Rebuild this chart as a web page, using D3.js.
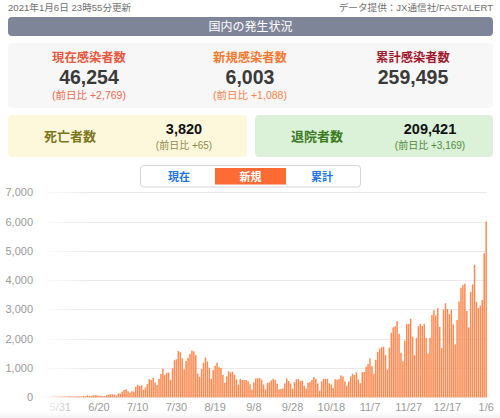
<!DOCTYPE html>
<html><head><meta charset="utf-8">
<script src="https://cdn.jsdelivr.net/npm/d3@7"></script>
<style>
html,body{margin:0;padding:0;background:#fff;}
svg{display:block;font-family:"Liberation Sans","Noto Sans CJK JP",sans-serif;}
</style></head>
<body><svg id="c" width="500" height="418"></svg>
<script>
// ---- data ----
const startDate = "2020-05-22";
const dailyNew = [
 26,21,14,21,35,38,66,50,36,46,
 38,51,39,44,51,43,35,41,38,40,41,52,42,72,48,44,67,68,68,54,55,43,41,77,97,105,100,92,58,130,
 125,194,250,274,208,152,207,191,355,429,386,407,259,334,451,622,594,664,510,418,631,795,981,769,838,841,598,982,1264,1301,1580,
 1536,1331,958,1238,1354,1485,1595,1565,1442,811,699,968,1177,1360,1225,1010,631,932,1072,1179,1029,1002,763,496,716,883,849,870,771,611,435,
 628,597,587,591,554,445,263,509,643,648,658,607,438,270,492,502,579,630,596,466,273,284,304,480,645,558,469,300,519,614,
 625,553,577,394,293,501,520,592,690,628,469,225,540,636,628,622,478,437,318,620,602,619,748,713,545,395,540,712,804,760,856,
 609,482,853,864,1045,1139,1332,1059,800,1280,1547,1660,1706,1734,1440,950,1697,2201,2386,2427,2596,2168,1518,1228,1934,2504,2508,2684,2066,1436,
 2030,2429,2510,2436,2508,2029,1489,2035,2811,2972,2792,3041,2403,1680,2988,3211,3015,2838,2996,2487,1809,2643,3271,3738,3829,3881,2948,2389,3603,3852,4520,
 3258,3052,3130,3323,4915,6003
];
const xTickLabels = ["5/31","6/20","7/10","7/30","8/19","9/8","9/28","10/18","11/7","11/27","12/17","1/6"];
const yTicks = [0,1000,2000,3000,4000,5000,6000,7000];
const updatedText = "2021年1月6日 23時55分更新";
const sourceText = "データ提供：JX通信社/FASTALERT";
const headerTitle = "国内の発生状況";
const summaryLabels = ["現在感染者数","新規感染者数","累計感染者数"];
const summaryValues = ["46,254","6,003","259,495"];
const summaryDiffs = ["(前日比 +2,769)","(前日比 +1,088)",""];
const boxLabels = ["死亡者数","退院者数"];
const boxValues = ["3,820","209,421"];
const boxDiffs = ["(前日比 +65)","(前日比 +3,169)"];
const toggleLabels = ["現在","新規","累計"];

// ---- derived categories ----
const parse = d3.timeParse("%Y-%m-%d");
const fmt = d3.timeFormat("%-m/%-d");
const t0 = parse(startDate);
const dates = dailyNew.map((v,i)=>fmt(d3.timeDay.offset(t0,i)));
const data = dates.map((d,i)=>({date:d, value:dailyNew[i]}));

const svg = d3.select("#c");

// ---- top texts ----
svg.append("text").attr("x",8).attr("y",11).attr("font-size",9.6).attr("fill","#707070").text(updatedText);
svg.append("text").attr("x",493).attr("y",11).attr("text-anchor","end").attr("font-size",9.6).attr("fill","#707070").text(sourceText);

svg.append("rect").attr("x",8).attr("y",17).attr("width",485).attr("height",19).attr("rx",4).attr("fill","#7f8599");
svg.append("text").attr("x",250.5).attr("y",30.8).attr("text-anchor","middle").attr("font-size",12).attr("fill","#fff").text(headerTitle);

// ---- summary panel ----
svg.append("rect").attr("x",8).attr("y",43).attr("width",485).attr("height",65).attr("rx",4).attr("fill","#f7f7f7");
const colX = [89,250,413];
const labColors = ["#e8573e","#f47a30","#a3172e"];
const diffColors = ["#ec6a52","#f5864c",""];
summaryLabels.forEach((l,i)=>{
  svg.append("text").attr("x",colX[i]).attr("y",62).attr("text-anchor","middle").attr("font-size",12.3).attr("font-weight","bold").attr("fill",labColors[i]).text(l);
  svg.append("text").attr("x",colX[i]).attr("y",84).attr("text-anchor","middle").attr("font-size",19.5).attr("font-weight","bold").attr("fill","#3a3a3a").text(summaryValues[i]);
  if(summaryDiffs[i]) svg.append("text").attr("x",colX[i]).attr("y",98.5).attr("text-anchor","middle").attr("font-size",10.5).attr("fill",diffColors[i]).text(summaryDiffs[i]);
});

// ---- death / recovered boxes ----
const boxes = [
 {x:8,w:239,bg:"#fdf8dc",lc:"#7d771c",dc:"#8f8a4c",lx:70,vx:184},
 {x:255,w:238,bg:"#dbf1d8",lc:"#3a7a20",dc:"#4f8a40",lx:317,vx:430}
];
boxes.forEach((b,i)=>{
  svg.append("rect").attr("x",b.x).attr("y",115).attr("width",b.w).attr("height",42).attr("rx",4).attr("fill",b.bg);
  svg.append("text").attr("x",b.lx).attr("y",141).attr("text-anchor","middle").attr("font-size",13).attr("font-weight","bold").attr("fill",b.lc).text(boxLabels[i]);
  svg.append("text").attr("x",b.vx).attr("y",134).attr("text-anchor","middle").attr("font-size",14.5).attr("font-weight","bold").attr("fill","#111").text(boxValues[i]);
  svg.append("text").attr("x",b.vx).attr("y",148.5).attr("text-anchor","middle").attr("font-size",10).attr("fill",b.dc).text(boxDiffs[i]);
});

// ---- toggle ----
svg.append("rect").attr("x",140.5).attr("y",165.5).attr("width",220).attr("height",21.5).attr("rx",3).attr("fill","#fff").attr("stroke","#d6d6d6");
svg.append("rect").attr("x",215).attr("y",168).attr("width",71).attr("height",16.5).attr("fill","#ff6b35");
const togX = [179,250.5,322];
toggleLabels.forEach((l,i)=>{
  svg.append("text").attr("x",togX[i]).attr("y",180.5).attr("text-anchor","middle").attr("font-size",11).attr("font-weight","bold")
    .attr("fill", i===1 ? "#fff" : "#1a73e8").text(l);
});

// ---- chart ----
const x = d3.scaleBand().domain(dates).range([42,487]).paddingInner(0.22).paddingOuter(0.05);
const y = d3.scaleLinear().domain([0,7000]).range([397.3,192.3]);

const gGrid = svg.append("g");
gGrid.selectAll("line").data(yTicks).join("line")
  .attr("x1",42).attr("x2",487).attr("y1",d=>Math.round(y(d))+0.5).attr("y2",d=>Math.round(y(d))+0.5)
  .attr("stroke","#e9e9e9").attr("stroke-width",1);

const yAxis = svg.append("g").attr("transform","translate(42,0)")
  .call(d3.axisLeft(y).tickValues(yTicks).tickFormat(d3.format(",")).tickSize(0).tickPadding(9));
yAxis.select(".domain").remove();
yAxis.selectAll("text").attr("font-size",11).attr("fill","#9a9a9a").attr("font-family","Liberation Sans, sans-serif");

svg.append("g").selectAll("rect").data(data).join("rect")
  .attr("x",d=>x(d.date)).attr("width",x.bandwidth())
  .attr("y",d=>y(d.value)).attr("height",d=>y(0)-y(d.value))
  .attr("fill","#ff8a52");

const xAxis = svg.append("g").attr("transform","translate(0,397.3)")
  .call(d3.axisBottom(x).tickValues(xTickLabels).tickSize(0).tickPadding(6));
xAxis.select(".domain").remove();
xAxis.selectAll("text").attr("font-size",11).attr("fill","#9a9a9a").attr("font-family","Liberation Sans, sans-serif");

// left fade overlay
const defs = svg.append("defs");
const lg = defs.append("linearGradient").attr("id","fade").attr("x1","0").attr("x2","1").attr("y1","0").attr("y2","0");
lg.append("stop").attr("offset","0%").attr("stop-color","#fff").attr("stop-opacity",1);
lg.append("stop").attr("offset","100%").attr("stop-color","#fff").attr("stop-opacity",0);
svg.append("rect").attr("x",40).attr("y",188).attr("width",50).attr("height",226).attr("fill","url(#fade)");

// bottom scroll band
const bg = defs.append("linearGradient").attr("id","bot").attr("x1","0").attr("x2","0").attr("y1","0").attr("y2","1");
bg.append("stop").attr("offset","0%").attr("stop-color","#f6f6f6").attr("stop-opacity",0);
bg.append("stop").attr("offset","100%").attr("stop-color","#f2f2f2").attr("stop-opacity",1);
svg.append("rect").attr("x",0).attr("y",411).attr("width",500).attr("height",7).attr("fill","url(#bot)");
</script></body></html>
